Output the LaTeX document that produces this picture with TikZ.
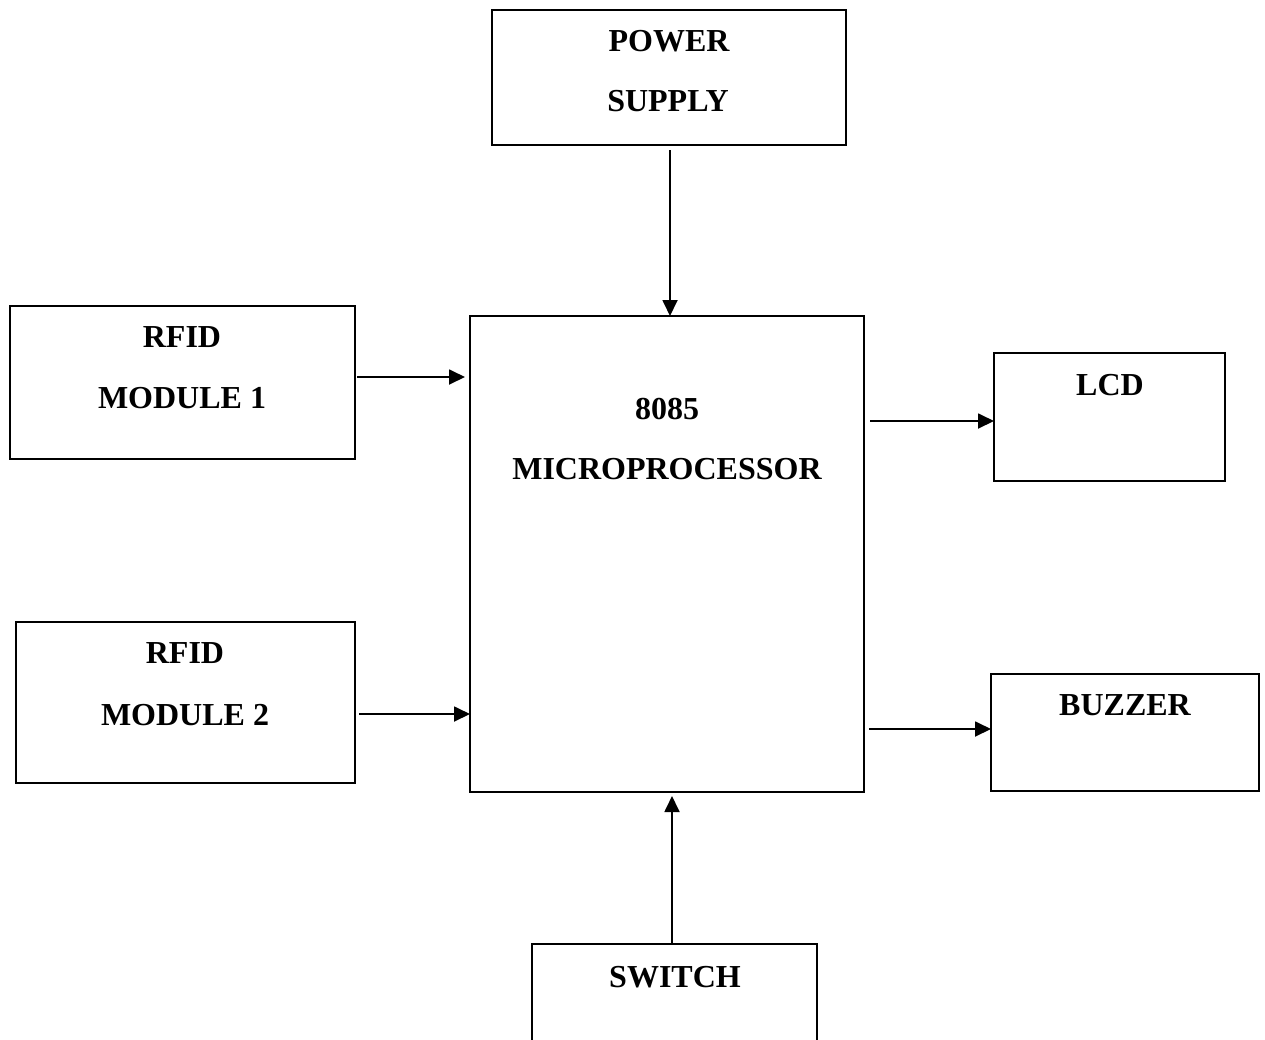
\documentclass[tikz,border=0pt]{standalone}
\usepackage{fontspec}
\setmainfont{Liberation Serif}
\usetikzlibrary{arrows.meta}
\begin{document}
\begin{tikzpicture}[x=1pt,y=-1pt,
  blk/.style={draw,line width=1.8pt,inner sep=0pt,outer sep=0pt},
  lbl/.style={anchor=base,inner sep=0pt,font=\fontsize{32}{36}\selectfont\bfseries},
  arr/.style={line width=1.8pt,-{Triangle[length=16pt,width=15pt]}}]
\useasboundingbox (0,0) rectangle (1265,1039);
\node[blk,minimum width=354pt,minimum height=135pt] (pw) at (669,77.5) {};
\node[blk,minimum width=394pt,minimum height=476pt] (mp) at (667,554) {};
\node[blk,minimum width=345pt,minimum height=153pt] (r1) at (182.5,382.5) {};
\node[blk,minimum width=339pt,minimum height=161pt] (r2) at (185.5,702.5) {};
\node[blk,minimum width=231pt,minimum height=128pt] (lcd) at (1109.5,417) {};
\node[blk,minimum width=268pt,minimum height=117pt] (bz) at (1125,732.5) {};
\node[blk,minimum width=285pt,minimum height=200pt] (sw) at (674.5,1044) {};
\node[lbl] (t1) at (669,51) {POWER};
\node[lbl] (t2) at (668,111) {SUPPLY};
\node[lbl] (t3) at (667,419) {8085};
\node[lbl] (t4) at (667,479) {MICROPROCESSOR};
\node[lbl] (t5) at (182,347) {RFID};
\node[lbl] (t6) at (182,408) {MODULE 1};
\node[lbl] (t7) at (185,663) {RFID};
\node[lbl] (t8) at (185,725) {MODULE 2};
\node[lbl] (t9) at (1110,395) {LCD};
\node[lbl] (t10) at (1125,715) {BUZZER};
\node[lbl] (t11) at (675,987) {SWITCH};
\draw[arr,shorten <=5pt] (pw.south -| 670,0) -- (mp.north -| 670,0);
\draw[arr,shorten <=2pt,shorten >=5pt] (r1.east |- 0,377) -- (mp.west |- 0,377);
\draw[arr,shorten <=4pt] (r2.east |- 0,714) -- (mp.west |- 0,714);
\draw[arr,shorten <=6pt] (mp.east |- 0,421) -- (lcd.west |- 0,421);
\draw[arr,shorten <=5pt] (mp.east |- 0,729) -- (bz.west |- 0,729);
\draw[arr,shorten >=4pt] (sw.north -| 672,0) -- (mp.south -| 672,0);
\end{tikzpicture}
\end{document}
